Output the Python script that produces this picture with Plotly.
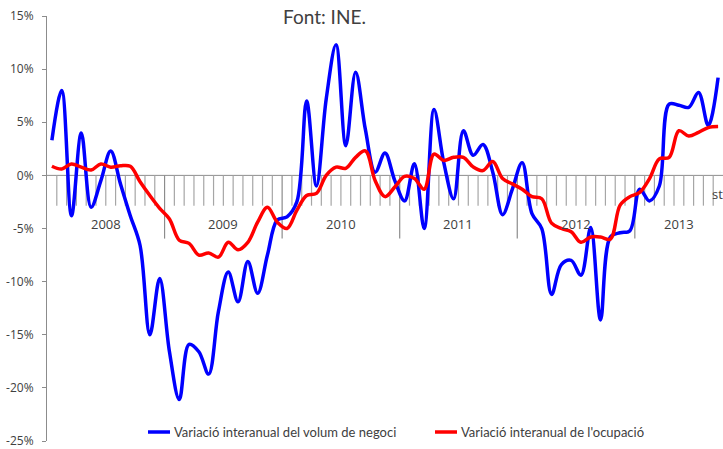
import plotly.graph_objects as go

# ---- data (monthly, Jan 2008 .. Sep 2013) ----
year_labels = ["2008", "2009", "2010", "2011", "2012", "2013"]
months_per_year = [12, 12, 12, 12, 12, 9]

volum_negoci = [3.3, 8.0, -3.8, 4.0, -3.0, -0.5, 2.3, -0.8, -3.8, -6.6, -15.0, -9.7,
                -16.6, -21.1, -15.9, -16.6, -18.7, -12.8, -9.1, -11.9, -8.1, -11.1, -7.5, -4.2,
                -3.9, -2.5, 7.0, -1.0, 7.2, 12.3, 2.8, 9.7, 4.3, 0.3, 2.1, -0.5,
                -2.4, 1.1, -5.0, 6.2, 1.2, -2.2, 4.2, 1.9, 2.9, 0.3, -3.7, -1.3,
                1.2, -3.6, -5.0, -11.2, -8.4, -8.0, -9.4, -4.9, -13.6, -5.8, -5.4, -5.2,
                -1.3, -2.4, -1.0, 6.7, 6.6, 6.4, 7.8, 4.7, 9.2]

ocupacio = [0.86, 0.6, 1.08, 0.77, 0.5, 1.08, 0.77, 0.9, 0.85, -0.6, -1.9, -3.1,
            -4.1, -6.1, -6.4, -7.5, -7.3, -7.7, -6.3, -7.0, -6.3, -4.4, -3.0, -4.4,
            -5.0, -3.3, -1.9, -1.7, 0.0, 0.77, 0.67, 1.7, 2.3, -0.5, -2.0, -1.1,
            -0.1, -0.3, -1.3, 2.0, 1.4, 1.7, 1.7, 0.8, 0.45, 1.3, -0.3, -0.8,
            -1.3, -2.0, -2.2, -4.5, -5.0, -5.3, -6.3, -5.8, -5.8, -6.0, -2.8, -2.0,
            -1.6, -0.3, 1.55, 1.7, 4.2, 3.7, 4.05, 4.5, 4.6]

y_tick_vals = [15, 10, 5, 0, -5, -10, -15, -20, -25]
y_tick_text = ["15%", "10%", "5%", "0%", "-5%", "-10%", "-15%", "-20%", "-25%"]

series_names = ["Variació interanual del volum de negoci",
                "Variació interanual de l'ocupació"]
series_colors = ["#0000FF", "#FF0000"]

# ---- layout geometry ----
W, H = 723, 449
ML, MR, MT, MB = 47, 0, 16, 8
PW, PH = W - ML - MR, H - MT - MB


def px_x(px):
    return (px - ML) / PW


def px_y(py):
    return (H - MB - py) / PH


n = len(volum_negoci)
x = list(range(n))

fig = go.Figure()
for vals, name, col in zip([volum_negoci, ocupacio], series_names, series_colors):
    fig.add_trace(go.Scatter(
        x=x, y=vals, mode="lines", name=name, showlegend=False,
        line=dict(color=col, width=3.5, shape="spline", smoothing=1.0),
    ))

shapes = []
axis_grey = "#8c8c8c"
tick_grey = "#a6a6a6"
# zero line
shapes.append(dict(type="line", xref="x", yref="y", x0=-0.5, x1=n - 0.5, y0=0, y1=0,
                   line=dict(color=axis_grey, width=1), layer="below"))
# month / year boundary ticks
year_starts = []
acc = 0
for c in months_per_year:
    year_starts.append(acc)
    acc += c
for k in range(1, n):
    b = k - 0.5
    is_year = k in year_starts
    shapes.append(dict(type="line", xref="x", yref="y", x0=b, x1=b, y0=0,
                       y1=-5.95 if is_year else -2.85,
                       line=dict(color=tick_grey if not is_year else axis_grey, width=1.2),
                       layer="below"))

annotations = []
for lab, start, cnt in zip(year_labels, year_starts, months_per_year):
    annotations.append(dict(x=start + (cnt - 1) / 2, y=-4.6, xref="x", yref="y",
                            text=lab, showarrow=False,
                            font=dict(family="Open Sans", size=13, color="#404040"),
                            xanchor="center", yanchor="middle"))

# clipped label at the right edge
annotations.append(dict(x=px_x(710), y=px_y(194), xref="paper", yref="paper",
                        text="st", showarrow=False,
                        font=dict(family="Open Sans", size=13, color="#404040"),
                        xanchor="left", yanchor="middle"))

# source text
annotations.append(dict(x=px_x(324), y=px_y(17), xref="paper", yref="paper",
                        text="Font: INE.", showarrow=False,
                        font=dict(family="Lato", size=19, color="#404040"),
                        xanchor="center", yanchor="middle"))

# manual legend
leg = [(148, 170, 172), (435, 457, 459)]
for (x0, x1, tx), name, col in zip(leg, series_names, series_colors):
    shapes.append(dict(type="line", xref="paper", yref="paper",
                       x0=px_x(x0), x1=px_x(x1), y0=px_y(432), y1=px_y(432),
                       line=dict(color=col, width=3.5)))
    annotations.append(dict(x=px_x(tx), y=px_y(432), xref="paper", yref="paper",
                            text=name, showarrow=False,
                            font=dict(family="Lato", size=13, color="#404040"),
                            xanchor="left", yanchor="middle"))

fig.update_layout(
    width=W, height=H,
    margin=dict(l=ML, r=MR, t=MT, b=MB, autoexpand=False),
    paper_bgcolor="white", plot_bgcolor="white",
    showlegend=False,
    shapes=shapes, annotations=annotations,
    xaxis=dict(range=[-0.5, n - 0.5], visible=False, fixedrange=True, automargin=False),
    yaxis=dict(range=[-25, 15], tickvals=y_tick_vals, ticktext=y_tick_text,
               ticks="outside", ticklen=4, tickcolor=axis_grey,
               showline=True, linecolor=axis_grey, linewidth=1,
               showgrid=False, zeroline=False, automargin=False,
               ticklabeloverflow="allow",
               tickfont=dict(family="Open Sans", size=12, color="#404040"),
               ticklabelstandoff=6, fixedrange=True),
)

fig.write_html(
    "out.html",
    config={"displayModeBar": False},
    post_script="document.body.style.margin='0';document.body.style.padding='0';"
                "document.body.style.overflow='hidden';",
)
